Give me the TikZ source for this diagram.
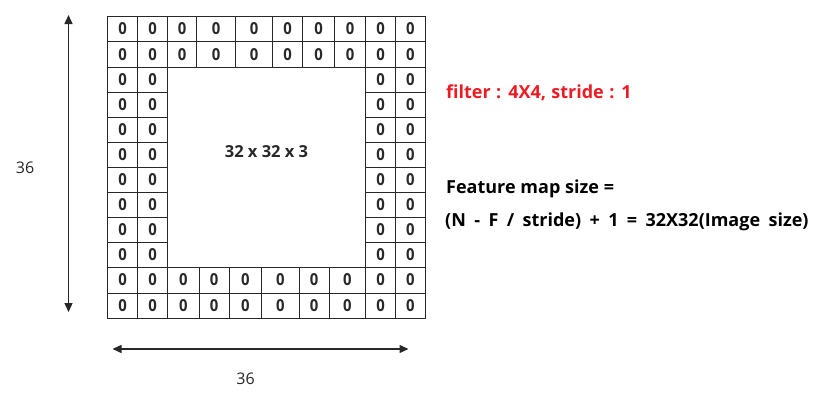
\documentclass[tikz,border=0pt]{standalone}
\usepackage{fontspec}
\setmainfont{Open Sans}
\usetikzlibrary{arrows.meta}
\definecolor{txtred}{RGB}{237,28,36}
\definecolor{ink}{RGB}{40,40,40}
\begin{document}
\begin{tikzpicture}[x=1pt,y=-1pt,
  cell/.style={draw=ink, line width=0.9pt, inner sep=0pt, anchor=center,
    font=\fontsize{16.5}{16.5}\selectfont\bfseries, text=ink},
  dim/.style={draw=ink, line width=1.4pt, {Triangle[length=9pt,width=8pt]}-{Triangle[length=9pt,width=8pt]}},
  dimlabel/.style={font=\fontsize{16}{16}\selectfont, text=ink, inner sep=0pt},
  info/.style={font=\fontsize{18}{18}\selectfont\bfseries, anchor=west, inner sep=0pt}]
\useasboundingbox (0,0) rectangle (820,399);
% top and bottom full rows
\foreach \ya/\yb/\r in {16/41.5/0, 41.5/67/1}
  \foreach \xa/\xb/\c in {107.5/137.5/0, 137.5/167.5/1, 167.5/196.5/2, 196.5/235.5/3, 235.5/272.5/4, 272.5/302.5/5, 302.5/334.5/6, 334.5/365.5/7, 365.5/395.5/8, 395.5/425/9}
  {
    \pgfmathsetmacro\w{\xb-\xa}\pgfmathsetmacro\h{\yb-\ya}
    \node[cell, minimum width=\w pt, minimum height=\h pt] (c\r-\c) at ({(\xa+\xb)/2},{(\ya+\yb)/2}) {\scalebox{0.9}[1]{0}};
  }
\foreach \ya/\yb/\r in {267/293/10, 293/318.5/11}
  \foreach \xa/\xb/\c in {107.5/137.5/0, 137.5/167.5/1, 167.5/199/2, 199/229/3, 229/261.5/4, 261.5/299/5, 299/329/6, 329/365.5/7, 365.5/395.5/8, 395.5/425/9}
  {
    \pgfmathsetmacro\w{\xb-\xa}\pgfmathsetmacro\h{\yb-\ya}
    \node[cell, minimum width=\w pt, minimum height=\h pt] (c\r-\c) at ({(\xa+\xb)/2},{(\ya+\yb)/2}) {\scalebox{0.9}[1]{0}};
  }
% side columns
\foreach \ya/\yb/\r in {67/92/2, 92/117/3, 117/142/4, 142/167/5, 167/192/6, 192/217/7, 217/242/8, 242/267/9}
  \foreach \xa/\xb/\c in {107.5/137.5/0, 137.5/167.5/1, 365.5/395.5/8, 395.5/425/9}
  {
    \pgfmathsetmacro\w{\xb-\xa}\pgfmathsetmacro\h{\yb-\ya}
    \node[cell, minimum width=\w pt, minimum height=\h pt] (c\r-\c) at ({(\xa+\xb)/2},{(\ya+\yb)/2}) {\scalebox{0.9}[1]{0}};
  }
\node[font=\fontsize{16.5}{16.5}\selectfont\bfseries, text=ink, inner sep=0pt] (img) at (266.5,152) {32 x 32 x 3};
% dimension arrows
\coordinate (vt) at (68.5,15);
\coordinate (vb) at (68.5,312);
\draw[dim] (vt) -- (vb);
\node[dimlabel] (vlab) at (25,168) {36};
\coordinate (hl) at (112.5,349);
\coordinate (hr) at (408.5,349);
\draw[dim] (hl) -- (hr);
\node[dimlabel] (hlab) at (245.5,379) {36};
% right side text
\node[info, text=txtred] (filt) at (446,93) {\spaceskip=5.4pt filter : 4X4, stride : 1};
\node[info, text=black] (fm1) at (446,189) {\spaceskip=4.8pt Feature map size =};
\node[info, text=black] (fm2) at (445,222) {\spaceskip=8.4pt (N - F / stride) + 1 = 32X32(Image size)};
\end{tikzpicture}
\end{document}
